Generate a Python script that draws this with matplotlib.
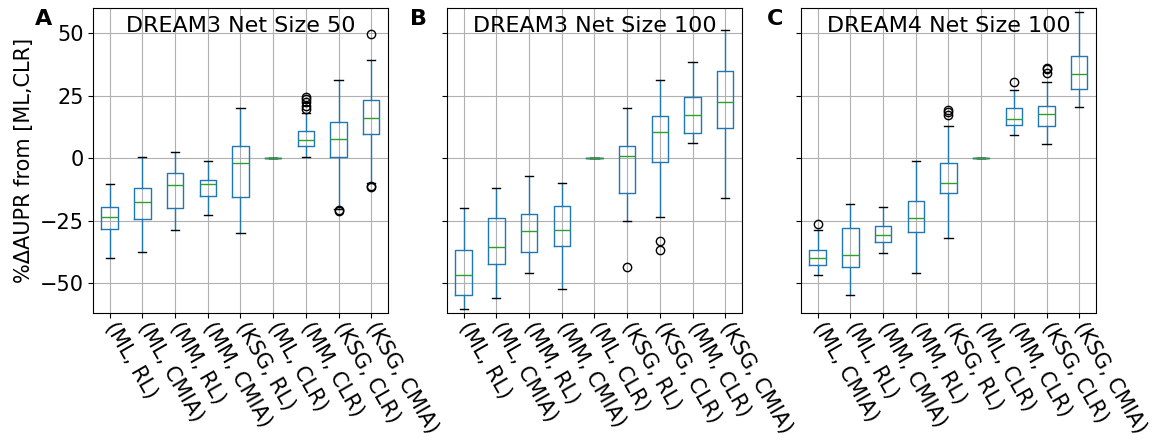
import matplotlib
matplotlib.use("Agg")
import matplotlib.pyplot as plt

titles = ["DREAM3 Net Size 50", "DREAM3 Net Size 100", "DREAM4 Net Size 100"]
letters = ["A", "B", "C"]

# panel A: DREAM3, 50 genes
labels_a = ["(ML, RL)", "(ML, CMIA)", "(MM, RL)", "(MM, CMIA)", "(KSG, RL)",
            "(ML, CLR)", "(MM, CLR)", "(KSG, CLR)", "(KSG, CMIA)"]
whislo_a = [-39.7, -37.3, -28.8, -22.8, -29.9, 0, 0.7, -20.3, -9.9]
q1_a = [-28.4, -24.1, -20.0, -15.2, -15.5, 0, 5.1, 0.5, 9.6]
med_a = [-23.6, -17.3, -10.7, -10.1, -2.0, 0, 7.5, 7.7, 16.0]
q3_a = [-19.3, -12.0, -5.7, -8.7, 4.9, 0, 10.8, 14.4, 23.3]
whishi_a = [-10.1, 0.5, 2.5, -0.9, 20.0, 0, 18.0, 31.5, 39.5]
fliers_a = [[], [], [], [], [], [], [19.7, 21.0, 22.4, 23.6, 24.7], [-20.5, -21.0],
            [-11.0, -11.3, 49.9]]

# panel B: DREAM3, 100 genes
labels_b = ["(ML, RL)", "(ML, CMIA)", "(MM, RL)", "(MM, CMIA)", "(ML, CLR)",
            "(KSG, RL)", "(KSG, CLR)", "(MM, CLR)", "(KSG, CMIA)"]
whislo_b = [-60.4, -56.0, -46.0, -52.3, 0, -25.1, -23.6, 6.0, -16.0]
q1_b = [-54.7, -42.1, -37.3, -34.9, 0, -13.9, -1.3, 10.3, 12.3]
med_b = [-46.8, -35.3, -29.1, -28.7, 0, 0.8, 10.4, 17.3, 22.7]
q3_b = [-36.7, -24.0, -22.1, -19.1, 0, 4.8, 17.1, 24.7, 34.9]
whishi_b = [-19.7, -12.0, -7.2, -9.7, 0, 20.3, 31.3, 38.7, 51.3]
fliers_b = [[], [], [], [], [], [-43.6], [-32.9, -36.5], [], []]

# panel C: DREAM4, 100 genes
labels_c = ["(ML, CMIA)", "(ML, RL)", "(MM, CMIA)", "(MM, RL)", "(KSG, RL)",
            "(ML, CLR)", "(MM, CLR)", "(KSG, CLR)", "(KSG, CMIA)"]
whislo_c = [-46.8, -54.8, -38.0, -45.7, -31.7, 0, 9.3, 5.7, 20.7]
q1_c = [-42.7, -43.3, -33.6, -29.3, -13.7, 0, 13.3, 13.1, 27.9]
med_c = [-40.0, -38.8, -30.5, -24.0, -10.0, 0, 15.6, 17.7, 33.7]
q3_c = [-36.8, -27.7, -26.9, -17.1, -1.7, 0, 20.0, 21.1, 40.9]
whishi_c = [-28.5, -18.3, -19.6, -0.9, 12.9, 0, 27.3, 30.5, 58.4]
fliers_c = [[-26.1], [], [], [], [17.3, 18.6, 19.3], [], [30.7], [34.0, 35.6, 36.2], []]

panels = [
    (labels_a, whislo_a, q1_a, med_a, q3_a, whishi_a, fliers_a),
    (labels_b, whislo_b, q1_b, med_b, q3_b, whishi_b, fliers_b),
    (labels_c, whislo_c, q1_c, med_c, q3_c, whishi_c, fliers_c),
]

fig, axes = plt.subplots(1, 3, figsize=(11.52, 4.47), dpi=100, sharey=True)
fig.subplots_adjust(left=0.081, right=0.951, top=0.981, bottom=0.299, wspace=0.203)

for i, ax in enumerate(axes):
    labels, lo, q1, med, q3, hi, fl = panels[i]
    stats = []
    for j in range(len(labels)):
        stats.append(dict(label=labels[j], whislo=lo[j], q1=q1[j], med=med[j],
                          q3=q3[j], whishi=hi[j], fliers=fl[j]))
    ax.bxp(stats,
           boxprops=dict(color="#1f77b4"),
           whiskerprops=dict(color="#1f77b4"),
           medianprops=dict(color="#2ca02c"),
           capprops=dict(color="black"),
           flierprops=dict(marker="o", markerfacecolor="none",
                           markeredgecolor="black", markersize=6))
    ax.grid(True)
    ax.set_ylim(-62, 60)
    ax.set_yticks([-50, -25, 0, 25, 50])
    ax.tick_params(labelsize=15)
    for t in ax.get_xticklabels():
        t.set_rotation(-60)
        t.set_ha("left")
        t.set_va("center")
        t.set_rotation_mode("anchor")
    ax.text(0.5, 0.976, titles[i], transform=ax.transAxes, ha="center",
            va="top", fontsize=16)

axes[0].set_ylabel("%ΔAUPR from [ML,CLR]", fontsize=15)

letter_x = [35, 410, 767]
for i in range(3):
    fig.text(letter_x[i] / 1152, 1 - 9 / 447, letters[i], fontsize=16,
             fontweight="bold", ha="left", va="top")

fig.savefig("out.png")
